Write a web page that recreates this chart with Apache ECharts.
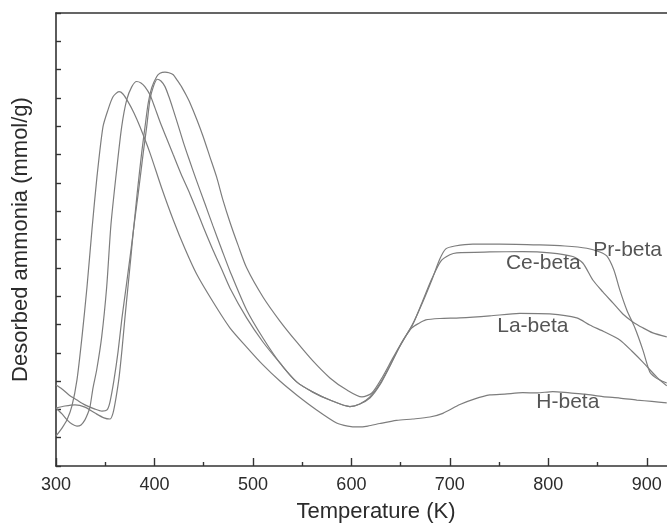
<!DOCTYPE html>
<html>
<head>
<meta charset="utf-8">
<script src="https://cdn.jsdelivr.net/npm/echarts@6/dist/echarts.min.js"></script>
<style>
html,body{margin:0;padding:0;background:#fff;}
#chart{width:667px;height:523px;}
</style>
</head>
<body>
<div id="chart"></div>
<script>
// Temperature (K), desorbed ammonia (arbitrary units, no y labels in original)
const hBeta = [[300,1.06],[306.1,1.34],[311.2,1.63],[316.2,2.12],[321.3,3.04],[326.4,4.56],[331.5,6.33],[336.5,8.34],[341.6,10.21],[347.7,11.98],[352.8,12.58],[357.9,13.04],[364,13.22],[368,13.14],[373.1,12.87],[379.2,12.47],[385.3,11.98],[395.4,11.06],[407.3,9.82],[419.1,8.69],[431,7.67],[442.8,6.78],[459.4,5.80],[476.6,4.88],[493.6,4.20],[510.2,3.57],[527.4,3.00],[544.4,2.51],[564.7,1.98],[585,1.52],[596.4,1.41],[606.6,1.38],[616.7,1.41],[628.9,1.50],[645.9,1.61],[662.4,1.66],[679.7,1.73],[692.9,1.86],[710.2,2.17],[725.4,2.37],[740.6,2.51],[755.8,2.54],[774.1,2.59],[788.3,2.58],[804.6,2.63],[821.8,2.58],[837.1,2.54],[855.4,2.45],[872.6,2.40],[889.9,2.33],[905.1,2.28],[920.3,2.23]];

const laBeta = [[300,2.05],[306.1,1.84],[311.2,1.63],[316.2,1.48],[321.3,1.41],[325.4,1.45],[329.4,1.63],[332.5,1.87],[334.5,2.08],[337.6,2.76],[341.3,3.39],[346.4,4.56],[351.5,6.33],[355.8,8.52],[361.6,10.46],[366.7,11.98],[371.8,12.93],[376.9,13.39],[381.9,13.58],[386.3,13.53],[390.4,13.39],[395.4,13.11],[400.5,12.65],[405.6,12.16],[411.7,11.63],[419.1,10.99],[426.9,10.32],[436,9.61],[443.1,9.01],[449.5,8.45],[459.4,7.63],[468.5,6.93],[476.6,6.29],[493.6,5.23],[510.2,4.38],[527.4,3.64],[544.4,2.97],[560.9,2.61],[578.2,2.33],[598.5,2.10],[608.6,2.19],[618.8,2.44],[628.9,2.90],[639.1,3.53],[647.2,4.10],[655.3,4.59],[661.4,4.88],[667.5,5.02],[675.6,5.16],[689.9,5.21],[710.2,5.23],[740.6,5.30],[771.1,5.39],[801.5,5.37],[828.9,5.23],[842.1,4.98],[857.4,4.73],[872.6,4.45],[884.8,4.06],[896,3.67],[910.2,3.14],[920.3,2.83]];

const ceBeta = [[300,2.05],[309.1,2.12],[319.3,2.16],[329.4,2.08],[339.6,1.87],[348.7,1.70],[354.8,1.66],[357.9,1.87],[360.9,2.40],[364,3.11],[367,4.10],[370,5.23],[373.1,6.33],[376.1,7.39],[378.7,8.34],[383.6,9.65],[388.6,11.06],[392.1,11.98],[395.4,12.93],[398.8,13.39],[402.8,13.66],[406.6,13.60],[410.7,13.40],[414.7,13.04],[419.1,12.58],[423.9,12.05],[429.2,11.45],[435,10.85],[442.1,10.14],[451.3,9.26],[459.4,8.48],[468.5,7.63],[476.6,6.89],[493.6,5.51],[510.2,4.52],[527.4,3.64],[544.4,2.97],[560.9,2.61],[578.2,2.33],[598.5,2.10],[608.6,2.19],[618.8,2.40],[628.9,2.86],[639.1,3.53],[647.2,4.10],[655.3,4.59],[663.5,5.09],[671.6,5.76],[681.7,6.61],[690.9,7.24],[700,7.46],[707.1,7.53],[740.6,7.56],[774.1,7.57],[801.5,7.53],[824.9,7.40],[835,7.17],[845.2,6.57],[855.4,6.15],[865.6,5.76],[875.7,5.37],[885.9,5.09],[896,4.88],[906.2,4.70],[920.3,4.56]];

const prBeta = [[300,2.86],[306.1,2.72],[313.2,2.51],[321.3,2.33],[329.4,2.16],[339.6,2.01],[346.7,1.94],[351.8,1.98],[354.8,2.26],[358.9,3.04],[363,4.03],[367,5.23],[371.1,6.29],[375.1,7.35],[378.7,8.34],[382.5,9.65],[387,11.06],[390.4,11.98],[393.7,12.83],[397.2,13.36],[402.2,13.75],[405.6,13.87],[410.7,13.91],[414.7,13.89],[419.1,13.82],[422.8,13.64],[427.6,13.39],[432,13.11],[436,12.83],[443.1,12.23],[449.5,11.63],[456.3,10.92],[463.1,10.21],[469.5,9.40],[476.6,8.62],[484.8,7.81],[493.6,7.00],[510.2,5.97],[527.4,5.12],[544.4,4.38],[560.9,3.71],[578.2,3.11],[595.1,2.69],[610.7,2.44],[620.8,2.58],[631,3.11],[641.1,3.75],[651.3,4.38],[661.4,4.95],[671.6,5.72],[681.7,6.57],[689.8,7.31],[695.9,7.67],[705.1,7.77],[723.3,7.84],[750.8,7.84],[791.4,7.81],[816.8,7.77],[839.1,7.69],[852.3,7.56],[859.4,7.42],[866.5,6.93],[872.6,6.22],[879.7,5.51],[887.9,4.88],[896,4.10],[903.1,3.32],[908.2,3.14],[913.2,3.04],[920.3,2.93]];

const seriesNames = ['H-beta','La-beta','Ce-beta','Pr-beta'];
const seriesData = [hBeta, laBeta, ceBeta, prBeta];
// label anchor positions [T, value, text]
const curveLabels = [[880.5,7.63,'Pr-beta'],[794.9,7.17,'Ce-beta'],[784.3,4.95,'La-beta'],[819.8,2.27,'H-beta']];

const xMin = 300, xMax = 950, xInterval = 100;
const yMin = 0, yMax = 16, yInterval = 1;

const FONT = '"Liberation Sans", Arial, Helvetica, sans-serif';
const TXT = '#2b2b2b';
const AX = '#333333';
const LINE = '#7d7d7d';

const chart = echarts.init(document.getElementById('chart'), null, {renderer:'canvas'});

const series = seriesData.map((d, i) => ({
  name: seriesNames[i],
  type: 'line',
  data: d,
  showSymbol: false,
  smooth: 0.25,
  lineStyle: {color: LINE, width: 1.2},
  z: 2,
  silent: true
}));

series.push({
  name: 'labels',
  type: 'scatter',
  data: curveLabels.map(l => ({value: [l[0], l[1]], name: l[2]})),
  symbolSize: 0,
  silent: true,
  z: 5,
  label: {
    show: true,
    position: 'inside',
    formatter: p => p.name,
    fontFamily: FONT,
    fontSize: 21,
    color: TXT
  }
});

chart.setOption({
  animation: false,
  backgroundColor: '#ffffff',
  grid: {left: 56, top: 13, right: -29, bottom: 57, containLabel: false, outerBoundsMode: 'none'},
  xAxis: [{
    type: 'value',
    position: 'bottom',
    min: xMin, max: xMax, interval: xInterval,
    axisLine: {show: true, onZero: false, lineStyle: {color: AX, width: 1.6}},
    axisTick: {show: true, inside: true, length: 8, lineStyle: {color: AX, width: 1.4}},
    minorTick: {show: true, splitNumber: 2, length: 4, lineStyle: {color: AX, width: 1.4}},
    splitLine: {show: false},
    axisLabel: {show: true, margin: 10, showMaxLabel: false, fontFamily: FONT, fontSize: 18, color: TXT},
    name: 'Temperature (K)',
    nameLocation: 'middle',
    nameGap: 35,
    nameTextStyle: {fontFamily: FONT, fontSize: 22, color: TXT}
  },{
    type: 'value',
    position: 'top',
    min: xMin, max: xMax, interval: xInterval,
    axisLine: {show: true, onZero: false, lineStyle: {color: AX, width: 1.6}},
    axisTick: {show: false},
    splitLine: {show: false},
    axisLabel: {show: false}
  }],
  yAxis: {
    type: 'value',
    min: yMin, max: yMax, interval: yInterval,
    axisLine: {show: true, onZero: false, lineStyle: {color: AX, width: 1.6}},
    axisTick: {show: true, inside: true, length: 5, lineStyle: {color: AX, width: 1.4}},
    splitLine: {show: false},
    axisLabel: {show: false},
    name: 'Desorbed ammonia (mmol/g)',
    nameLocation: 'middle',
    nameGap: 24,
    nameRotate: 90,
    nameTextStyle: {fontFamily: FONT, fontSize: 22, color: TXT}
  },
  series: series
});
</script>
</body>
</html>
